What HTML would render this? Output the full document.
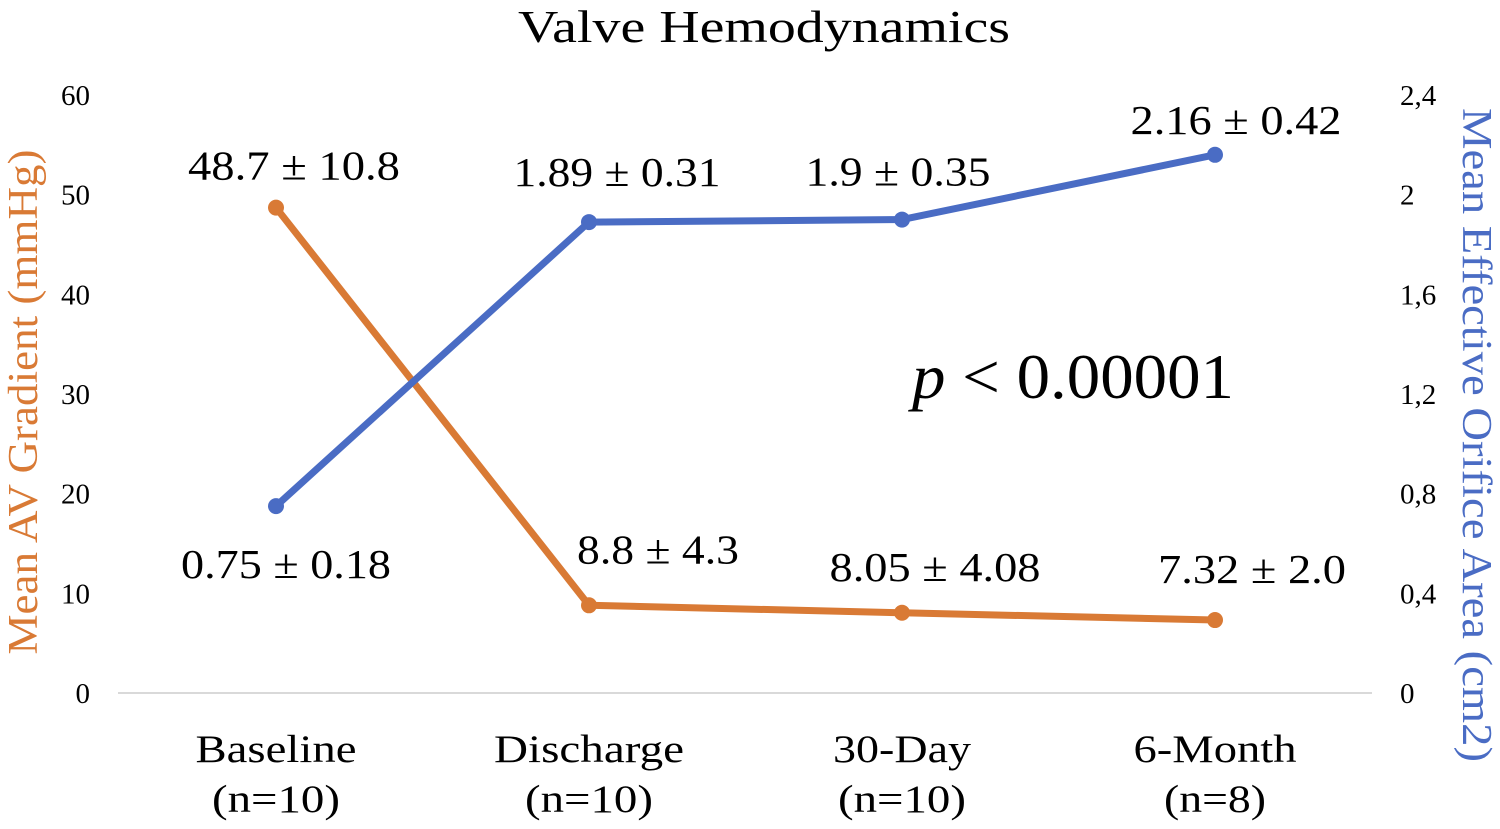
<!DOCTYPE html>
<html><head><meta charset="utf-8"><style>
html,body{margin:0;padding:0;background:#fff;}
svg{display:block;font-family:"Liberation Serif",serif;}
</style></head><body>
<svg id="chart" width="1500" height="829" viewBox="0 0 1500 829">
<text x="764" y="42" font-size="46" text-anchor="middle" textLength="492" lengthAdjust="spacingAndGlyphs" fill="#000">Valve Hemodynamics</text>
<g id="axes"></g>
<g id="series"></g>
<text transform="translate(37,402) rotate(-90)" font-size="42" text-anchor="middle" textLength="505" lengthAdjust="spacingAndGlyphs" fill="#D97A35">Mean AV Gradient (mmHg)</text>
<text transform="translate(1463,435) rotate(90)" font-size="42" text-anchor="middle" textLength="654" lengthAdjust="spacingAndGlyphs" fill="#4A6CC4">Mean Effective Orifice Area (cm2)</text>
<text x="1073" y="398" font-size="64" text-anchor="middle" textLength="322" lengthAdjust="spacingAndGlyphs" fill="#000"><tspan font-style="italic">p</tspan> &lt; 0.00001</text>
</svg>
<script>
const categories = ["Baseline", "Discharge", "30-Day", "6-Month"];
const nLabels = ["(n=10)", "(n=10)", "(n=10)", "(n=8)"];
const gradientValues = [48.7, 8.8, 8.05, 7.32];
const gradientLabels = ["48.7 ± 10.8", "8.8 ± 4.3", "8.05 ± 4.08", "7.32 ± 2.0"];
const eoaValues = [0.75, 1.89, 1.9, 2.16];
const eoaLabels = ["0.75 ± 0.18", "1.89 ± 0.31", "1.9 ± 0.35", "2.16 ± 0.42"];
const leftTicks = [0, 10, 20, 30, 40, 50, 60];
const rightTicks = ["0", "0,4", "0,8", "1,2", "1,6", "2", "2,4"];
const rightTickValues = [0, 0.4, 0.8, 1.2, 1.6, 2, 2.4];

const NS = "http://www.w3.org/2000/svg";
const y0 = 693, yTop = 95;
const yL = v => y0 - v / 60 * (y0 - yTop);
const yR = v => y0 - v / 2.4 * (y0 - yTop);
const xC = i => 276 + i * 313;
function mk(tag, attrs, parent, text) {
  const e = document.createElementNS(NS, tag);
  for (const k in attrs) e.setAttribute(k, attrs[k]);
  if (text !== undefined) e.textContent = text;
  parent.appendChild(e);
  return e;
}
const axes = document.getElementById("axes");
const ser = document.getElementById("series");
let base = mk("line", {x1: 118, x2: 1372, y1: y0, y2: y0, stroke: "#D9D9D9", "stroke-width": 2}, axes);


leftTicks.forEach(v => {
  const t = mk("text", {x: 90, y: yL(v) + 10, "font-size": 29, "text-anchor": "end", fill: "#000"}, axes, String(v));
  
  
});
rightTickValues.forEach((v, i) => {
  const t = mk("text", {x: 1400, y: yR(v) + 10, "font-size": 29, "text-anchor": "start", fill: "#000"}, axes, rightTicks[i]);
  
  
});
const catW = [161, 190, 138, 163];
const nW = [128, 128, 128, 102];
categories.forEach((c, i) => {
  const t = mk("text", {x: xC(i), y: 762, "font-size": 39, "text-anchor": "middle", textLength: catW[i], lengthAdjust: "spacingAndGlyphs", fill: "#000"}, axes, c);
  
  
  const n = mk("text", {x: xC(i), y: 812, "font-size": 39, "text-anchor": "middle", textLength: nW[i], lengthAdjust: "spacingAndGlyphs", fill: "#000"}, axes, nLabels[i]);
  
  
});
function drawSeries(vals, yf, color, name) {
  const pl = mk("polyline", {points: vals.map((v, i) => xC(i) + "," + yf(v)).join(" "), fill: "none", stroke: color, "stroke-width": 7, "stroke-linejoin": "round"}, ser);
  
  
  vals.forEach((v, i) => {
    const c = mk("circle", {cx: xC(i), cy: yf(v), r: 8, fill: color}, ser);
    
    
  });
}
drawSeries(gradientValues, yL, "#D97A35", "gradient");
drawSeries(eoaValues, yR, "#4A6CC4", "eoa");
const gOff = [[18, -28], [69, -42], [33, -32], [37, -37]];
const gW = [212, 162, 211, 188];
gradientValues.forEach((v, i) => {
  const t = mk("text", {x: xC(i) + gOff[i][0], y: yL(v) + gOff[i][1], "font-size": 41, "text-anchor": "middle", textLength: gW[i], lengthAdjust: "spacingAndGlyphs", fill: "#000"}, ser, gradientLabels[i]);
  
  
});
const eOff = [[10, 72], [28, -36], [-4, -34], [21, -21]];
const eW = [210, 207, 185, 211];
eoaValues.forEach((v, i) => {
  const t = mk("text", {x: xC(i) + eOff[i][0], y: yR(v) + eOff[i][1], "font-size": 41, "text-anchor": "middle", textLength: eW[i], lengthAdjust: "spacingAndGlyphs", fill: "#000"}, ser, eoaLabels[i]);
  
  
});
</script>
</body></html>
